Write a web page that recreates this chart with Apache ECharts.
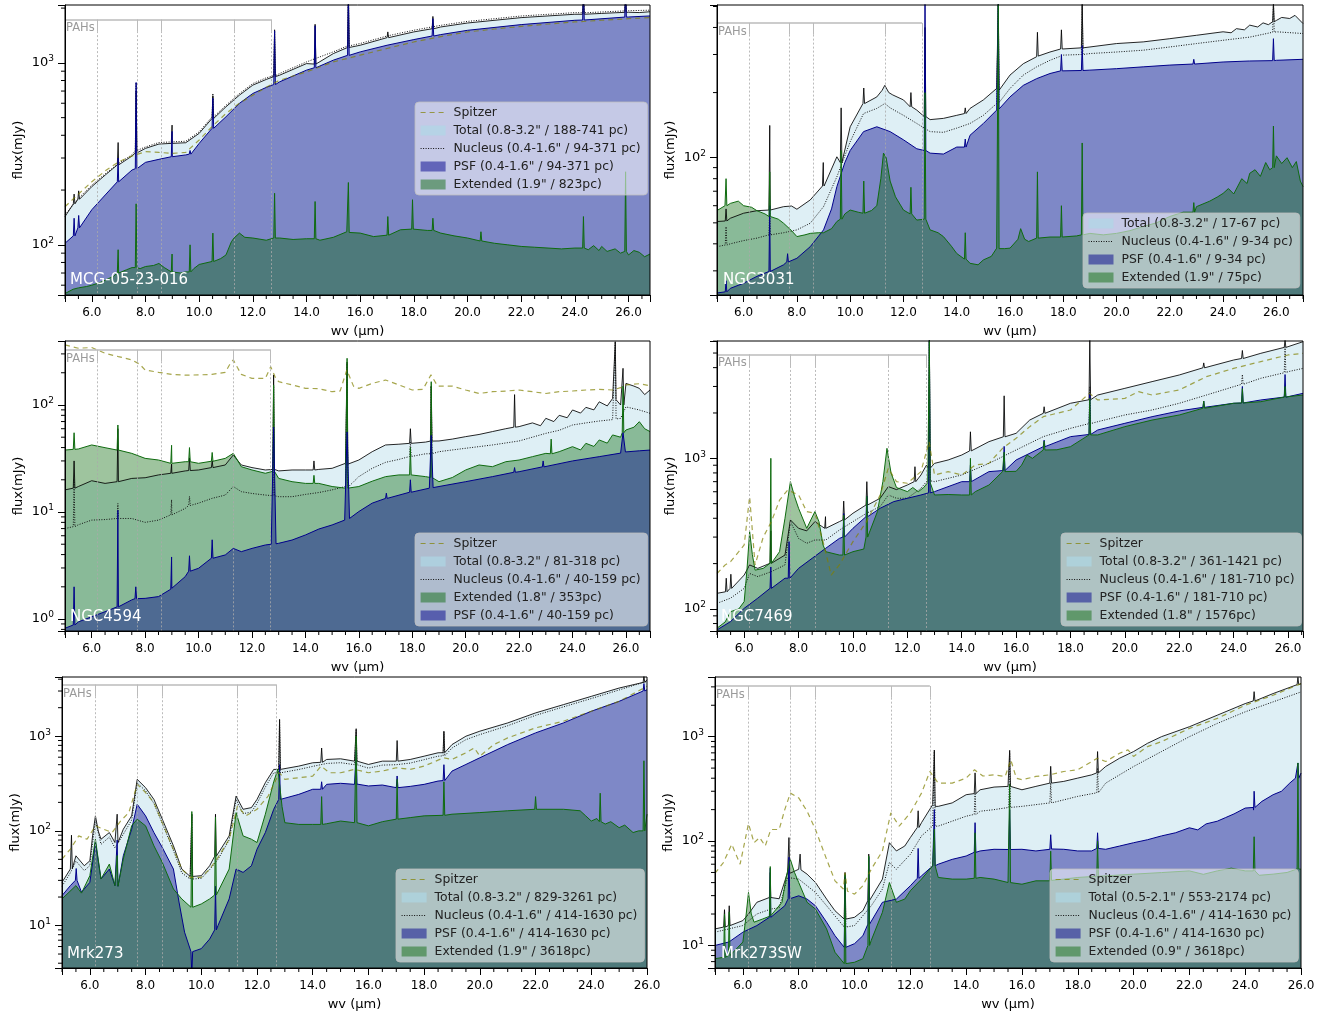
<!DOCTYPE html>
<html><head><meta charset="utf-8">
<script src="https://cdn.jsdelivr.net/npm/echarts/dist/echarts.min.js"></script>
<style>html,body{margin:0;padding:0;background:#fff}#c{width:1319px;height:1015px}</style>
</head><body><div id="c"></div>
<script>
// ---------------- DATA (wavelength µm, flux mJy) ----------------
const PAH_WV = [6.2, 7.7, 8.6, 11.3, 12.7];

// Panel 1: MCG-05-23-016
const P1_TOTAL = [[5.0,143],[5.5,177],[6.0,209],[6.5,242],[7.0,275],[7.5,308],[8.0,339],[8.5,358],[9.0,361],[9.5,364],[10.0,410],[10.5,495],[11.0,574],[11.5,665],[12.0,755],[12.5,811],[13.0,856],[14.0,991],[15.0,1125],[16.0,1250],[17.0,1376],[18.0,1480],[19.0,1575],[20.0,1656],[22.0,1773],[24.0,1850],[25.0,1870],[25.5,1885],[26.0,1898],[26.4,1890],[26.8,1910]];
const P1_TOTAL_L = [[5.34,168,190],[5.51,178,198],[6.98,275,365],[7.65,320,700],[8.99,361,455],[10.51,495,660],[12.81,840,1520],[14.32,985,1630],[15.56,1215,2500],[17.03,1376,1480],[18.71,1540,1800],[24.32,1850,2500],[25.89,1895,2500]];
const P1_NUC = [[5.0,146],[5.5,180],[6.0,213],[6.5,246],[7.0,280],[7.5,313],[8.0,345],[8.5,365],[9.0,368],[9.5,371],[10.0,418],[10.5,505],[11.0,585],[11.5,678],[12.0,770],[12.5,828],[13.0,875],[14.0,1012],[15.0,1150],[16.0,1278],[17.0,1405],[18.0,1512],[19.0,1608],[20.0,1690],[22.0,1810],[24.0,1888],[26.0,1935],[26.8,1948]];
const P1_NUC_L = [[7.65,330,780],[10.51,505,680],[12.81,850,1500],[15.56,1240,2500],[24.32,1885,2500],[25.89,1930,2500]];
const P1_PSF = [[5.0,102],[5.5,126],[6.0,156],[6.5,188],[7.0,222],[7.5,258],[8.0,284],[8.5,295],[9.0,305],[9.5,312],[10.0,361],[10.5,437],[11.0,506],[11.5,599],[12.0,679],[12.5,733],[13.0,787],[14.0,912],[15.0,1035],[16.0,1149],[17.0,1250],[18.0,1343],[19.0,1430],[20.0,1510],[22.0,1623],[24.0,1714],[26.0,1787],[26.8,1811]];
const P1_PSF_L = [[5.34,112,140],[5.51,124,145],[6.98,222,300],[7.65,262,780],[8.99,305,420],[9.66,315,330],[10.51,437,640],[12.81,760,1500],[14.32,940,1600],[15.56,1100,2500],[18.71,1405,1750],[24.32,1720,2500],[25.89,1785,2500]];
const P1_EXT = [[5.0,54],[5.3,57],[5.5,58],[5.8,59],[6.0,60],[6.3,62],[6.5,64],[6.8,67],[7.0,70],[7.3,73],[7.5,75],[7.8,74],[8.0,76],[8.3,77],[8.5,79],[8.7,75],[9.0,71],[9.3,70],[9.5,71],[9.8,74],[10.0,78],[10.5,81],[10.8,84],[11.0,88],[11.2,104],[11.3,109],[11.5,116],[11.7,110],[12.0,109],[12.5,106],[13.0,109],[13.5,107],[14.0,108],[14.5,106],[15.0,110],[15.5,118],[16.0,116],[16.5,111],[17.0,113],[17.5,121],[18.0,123],[18.5,120],[19.0,116],[19.5,112],[20.0,109],[20.5,105],[21.0,102],[21.5,100],[22.0,98],[22.5,97],[23.0,96],[23.5,95],[24.0,96],[24.5,94],[24.7,99],[24.9,93],[25.0,98],[25.2,92],[25.5,95],[25.7,90],[26.0,88],[26.2,93],[26.4,91],[26.6,86],[26.8,89]];
const P1_EXT_L = [[6.98,70,94],[7.65,75,168],[8.99,71,89],[9.66,71,100],[10.51,81,116],[12.81,109,192],[14.32,108,173],[15.56,117,220],[17.03,113,143],[17.95,122,177],[18.71,120,140],[20.5,105,118],[24.32,96,143],[25.89,92,252]];
const P1_SPITZER = [[5.0,162],[5.5,190],[6.0,222],[6.5,255],[7.0,286],[7.5,308],[8.0,325],[8.5,322],[9.0,318],[9.5,322],[10.0,377],[10.5,450],[11.0,527],[11.5,600],[12.0,665],[12.5,735],[13.0,803],[14.0,893],[15.0,1012],[16.0,1102],[17.0,1200],[18.0,1303],[19.0,1395],[20.0,1479],[21.0,1535],[22.0,1587],[23.0,1635],[24.0,1678],[25.0,1715],[26.0,1750],[26.8,1773]];
const P1_LEGEND = [['spitzer','Spitzer'],['total','Total (0.8-3.2" / 188-741 pc)'],['nuc','Nucleus (0.4-1.6" / 94-371 pc)'],['psf','PSF (0.4-1.6" / 94-371 pc)'],['ext','Extended (1.9" / 823pc)']];

// Panel 2: NGC3031
const P2_TOTAL = [[5.0,50.7],[5.5,52.5],[6.0,55.4],[6.5,56.9],[7.0,57.3],[7.5,59.4],[7.8,59.8],[8.0,57.8],[8.5,63.8],[9.0,76.3],[9.5,101],[10.0,139],[10.5,178],[11.0,191],[11.2,205],[11.3,216],[11.45,200],[11.6,195],[12.0,185],[12.5,166],[13.0,150],[13.5,152],[14.0,157],[14.5,169],[15.0,185],[15.5,209],[16.0,241],[16.5,272],[17.0,293],[17.5,308],[18.0,320],[19.0,325],[20.0,337],[21.0,343],[22.0,355],[23.0,368],[24.0,382],[24.3,378],[24.5,395],[24.8,390],[25.0,410],[25.3,402],[25.5,420],[25.7,412],[26.0,431],[26.2,445],[26.5,440],[26.7,455],[27.0,417]];
const P2_TOTAL_L = [[5.34,51,58],[6.98,57.3,141],[8.99,74,95],[9.66,95,170],[10.51,178,210],[12.28,172,200],[12.81,155,400],[14.32,160,170],[15.56,205,520],[17.03,295,380],[17.93,318,390],[18.71,322,520],[25.89,425,520]];
const P2_NUC = [[5.0,38.8],[5.5,40],[6.0,41.4],[6.5,42.5],[7.0,44],[7.5,45],[8.0,46.4],[8.5,49.8],[9.0,59.4],[9.5,81.6],[10.0,118.5],[10.5,160],[11.0,169],[11.3,178],[11.5,170],[12.0,157],[12.5,144],[13.0,132],[13.5,131],[14.0,137],[14.5,144],[15.0,157],[15.5,178],[16.0,209],[16.5,241],[17.0,263],[17.5,282],[18.0,298],[19.0,303],[20.0,308],[21.0,314],[22.0,325],[23.0,337],[24.0,349],[25.0,361],[26.0,382],[27.0,375]];
const P2_NUC_L = [[5.34,39.5,48],[6.98,44,60],[15.56,180,520],[18.71,300,520],[25.89,380,520]];
const P2_PSF = [[5.0,23.7],[5.5,24.9],[6.0,26.3],[6.5,28.3],[7.0,29.8],[7.5,32],[8.0,34.3],[8.5,38.8],[9.0,46.4],[9.3,58],[9.5,73.5],[9.8,95],[10.0,108],[10.5,132],[11.0,139],[11.5,132],[12.0,121],[12.5,110],[13.0,105],[13.5,104],[14.0,112],[14.5,127],[15.0,144],[15.5,166],[16.0,191],[16.5,216],[17.0,232],[17.5,245],[18.0,252],[19.0,254],[20.0,258],[21.0,263],[22.0,268],[23.0,272],[24.0,277],[25.0,280],[26.0,282],[27.0,285]];
const P2_PSF_L = [[5.34,24,27],[6.98,29.8,60],[7.65,33,36],[12.81,108,520],[14.32,112,122],[15.56,168,520],[17.93,252,300],[18.71,253,330],[22.9,271,285],[25.89,281,355]];
const P2_EXT = [[5.0,57],[5.3,60],[5.5,61.5],[5.8,63],[6.0,60],[6.3,59],[6.5,56.9],[6.8,55],[7.0,53.5],[7.3,52],[7.5,49.8],[7.8,46],[8.0,43.2],[8.3,44],[8.5,44.7],[8.8,45],[9.0,45],[9.3,47],[9.5,50.7],[9.8,55],[10.0,57.3],[10.3,56],[10.5,55.4],[10.8,57],[11.0,60],[11.15,80],[11.25,105],[11.35,100],[11.5,78],[11.7,66],[12.0,57.3],[12.5,51.5],[13.0,46.4],[13.3,45],[13.5,43.2],[13.8,39],[14.0,36.1],[14.3,34],[14.5,32.5],[14.8,32],[15.0,33.7],[15.3,35],[15.5,38.2],[15.8,38],[16.0,38.2],[16.3,42],[16.4,47],[16.55,42],[16.7,41],[17.0,42.5],[17.5,43],[18.0,43.2],[18.5,43.5],[19.0,44.7],[19.5,44],[20.0,44.7],[20.5,46],[21.0,48.1],[21.5,50],[22.0,53.5],[22.5,56],[23.0,59.4],[23.5,63],[23.8,66],[24.0,68.4],[24.2,72],[24.4,68],[24.7,80],[24.9,76],[25.0,84.7],[25.2,88],[25.4,82],[25.6,95],[25.75,88],[26.0,102],[26.2,94],[26.4,100],[26.6,90],[26.75,96],[26.9,78],[27.0,73.5]];
const P2_EXT_L = [[5.34,60,80],[6.98,53.5,86],[9.66,52,108],[10.51,55.4,78],[12.28,55,73],[12.81,52,200],[14.32,34,45],[15.56,38,520],[17.03,42.5,86],[17.93,43,60],[18.71,44,117],[22.9,56,62],[25.89,90,140]];
const P2_LEGEND = [['total','Total (0.8-3.2" / 17-67 pc)'],['nuc','Nucleus (0.4-1.6" / 9-34 pc)'],['psf','PSF (0.4-1.6" / 9-34 pc)'],['ext','Extended (1.9" / 75pc)']];

// Panel 3: NGC4594
const P3_SPITZER = [[5.0,364],[5.5,339],[6.0,344],[6.5,304],[7.0,283],[7.5,264],[7.8,240],[8.0,212],[8.5,202],[9.0,193],[9.5,190],[10.0,191],[10.5,193],[11.0,202],[11.15,235],[11.3,264],[11.45,225],[11.6,193],[12.0,177],[12.5,177],[12.7,228],[12.9,175],[13.0,165],[13.5,154],[14.0,143],[14.5,142],[15.0,133],[15.3,135],[15.55,212],[15.8,150],[16.0,143],[16.5,159],[17.0,171],[17.5,154],[18.0,138],[18.4,140],[18.7,191],[18.95,150],[19.5,150],[20.0,138],[20.5,128],[21.0,133],[21.5,135],[22.0,138],[22.5,133],[23.0,128],[23.5,133],[24.0,135],[24.5,138],[25.0,140],[25.5,138],[25.8,145],[26.0,154],[26.5,158],[26.9,151]];
const P3_TOTAL = [[5.0,16.1],[5.5,17.3],[6.0,19.6],[6.5,18.5],[7.0,19.2],[7.5,20.6],[8.0,20.9],[8.5,22.2],[9.0,23],[9.5,24.2],[10.0,24.7],[10.5,26],[11.0,27.5],[11.3,34.1],[11.6,27.5],[12.0,26],[12.5,24.7],[13.0,24.2],[13.5,24.7],[14.0,24.7],[14.5,25],[15.0,25.6],[15.5,28.5],[16.0,30.6],[16.5,36.6],[17.0,42.3],[17.5,43],[18.0,43.8],[18.5,45],[19.0,46.1],[19.5,48],[20.0,50.6],[20.5,53],[21.0,56.4],[21.5,60],[22.0,62.8],[22.5,68],[22.8,64],[23.0,75],[23.3,70],[23.5,80],[23.8,76],[24.0,89.8],[24.3,84],[24.5,95],[24.8,90],[25.0,107],[25.3,98],[25.5,115],[25.8,100],[26.0,159],[26.3,150],[26.5,143],[26.7,125],[26.9,138]];
const P3_TOTAL_L = [[5.34,16.7,30],[6.98,19.2,60],[8.99,23,28],[9.66,24.4,32],[10.51,26,30],[12.81,25,191],[14.32,24.7,30],[15.56,28,250],[17.93,43.8,60],[18.71,46,150],[21.83,62,125],[25.6,112,390],[25.89,100,220]];
const P3_NUC = [[5.0,7.0],[5.5,7.6],[6.0,8.4],[6.5,8.5],[7.0,8.7],[7.5,8.7],[8.0,8.0],[8.5,8.4],[9.0,9.4],[9.5,10.8],[10.0,12.1],[10.5,13.4],[11.0,14.4],[11.3,17.3],[11.6,15.5],[12.0,14.9],[12.5,14.4],[13.0,13.9],[13.5,13.9],[14.0,14.6],[14.5,15.2],[15.0,16.1],[15.5,17.3],[16.0,21.4],[16.5,25.6],[17.0,29.1],[17.5,31],[18.0,33.6],[18.5,35],[19.0,36.6],[19.5,38],[20.0,39.4],[21.0,42.3],[22.0,46.1],[23.0,54.3],[23.5,58],[24.0,65],[24.5,68],[25.0,70.8],[25.5,73],[25.8,75],[26.0,96],[26.5,89.8],[26.9,83.6]];
const P3_NUC_L = [[5.34,7.3,20],[6.98,8.7,12],[8.99,9.4,13],[9.66,11.5,14],[12.81,14.2,150],[15.56,17,250],[17.93,33,45],[18.71,35,150],[25.6,74,390]];
const P3_EXT = [[5.0,37.9],[5.5,38.8],[6.0,42.3],[6.5,39.9],[7.0,37.9],[7.5,35.3],[8.0,31.7],[8.5,30.6],[9.0,28.5],[9.5,29.5],[10.0,28.5],[10.5,29.8],[11.0,31.7],[11.3,35.3],[11.6,26.5],[12.0,24.7],[12.5,23],[13.0,20.6],[13.5,19.2],[14.0,18.5],[14.5,18.5],[15.0,17.3],[15.5,16.7],[16.0,17.3],[16.5,19.4],[17.0,21.4],[17.5,22.2],[18.0,22.2],[18.5,21.4],[19.0,19.2],[19.5,21],[20.0,24.7],[20.5,27.5],[21.0,26.5],[21.5,29.5],[22.0,30.6],[22.5,32.9],[23.0,35.3],[23.5,36.6],[24.0,40.8],[24.3,38],[24.5,43.8],[24.8,41],[25.0,47.1],[25.3,44],[25.5,52.5],[25.8,50],[26.0,58.4],[26.3,62],[26.5,69.8],[26.7,60],[26.9,56.4]];
const P3_EXT_L = [[5.34,38.5,55],[6.98,37.9,65],[8.99,28.5,42],[9.66,29.5,40],[10.51,29.8,36],[12.81,24,154],[14.32,18.5,22],[15.56,16.7,273],[17.93,22.2,40],[18.71,21,165],[23.2,35,48],[25.89,55,150]];
const P3_PSF = [[5.0,0.82],[5.5,0.94],[6.0,1.05],[6.5,1.17],[7.0,1.30],[7.5,1.51],[8.0,1.56],[8.5,1.62],[9.0,1.94],[9.5,2.49],[10.0,2.98],[10.5,3.69],[11.0,3.97],[11.3,4.57],[11.6,4.26],[12.0,4.57],[12.5,4.92],[12.72,5.0],[12.81,62],[12.9,5.05],[13.0,5.1],[13.5,5.47],[14.0,6.1],[14.5,6.93],[15.0,7.57],[15.47,8.4],[15.56,56],[15.65,8.7],[16.0,10.1],[16.5,12.1],[17.0,13.4],[18.0,15.5],[18.64,16.7],[18.71,52],[18.78,16.9],[19.0,17.3],[20.0,19.2],[21.0,21.4],[22.0,23.8],[23.0,26.5],[24.0,30],[25.0,32.9],[25.8,35.5],[25.89,55],[25.98,36.4],[26.5,37.3],[26.9,37.9]];
const P3_PSF_L = [[5.34,0.88,2.0],[6.98,1.3,10.4],[7.65,1.55,2.0],[8.99,1.9,3.8],[9.66,2.8,3.9],[10.51,3.7,5.5],[17.03,13.4,15],[17.93,15.3,20],[21.83,23.5,26],[22.9,26.4,30]];
const P3_LEGEND = [['spitzer','Spitzer'],['total','Total (0.8-3.2" / 81-318 pc)'],['nuc','Nucleus (0.4-1.6" / 40-159 pc)'],['ext','Extended (1.8" / 353pc)'],['psf','PSF (0.4-1.6" / 40-159 pc)']];

// Panel 4: NGC7469
const P4_SPITZER = [[5.0,172],[5.3,196],[5.5,206],[5.8,240],[6.0,266],[6.2,557],[6.4,196],[6.7,300],[7.0,380],[7.3,528],[7.6,616],[8.0,571],[8.3,443],[8.6,432],[8.9,280],[9.2,168],[9.5,196],[10.0,280],[10.5,380],[11.0,571],[11.3,859],[11.6,700],[12.0,683],[12.5,816],[12.8,1290],[13.0,775],[13.5,816],[14.0,775],[14.5,903],[15.0,926],[15.5,1165],[16.0,1358],[16.5,1623],[17.0,1890],[17.5,1990],[18.0,2093],[18.7,2700],[19.0,2440],[20.0,2500],[20.5,2770],[21.0,2632],[22.0,2845],[23.0,3485],[24.0,3955],[25.0,4386],[26.0,4855],[26.55,4980]];
const P4_TOTAL = [[5.0,127],[5.5,137],[6.0,168],[6.2,196],[6.5,186],[7.0,201],[7.5,228],[7.7,390],[8.0,343],[8.3,330],[8.6,380],[9.0,343],[9.5,380],[10.0,432],[10.5,490],[11.0,543],[11.3,649],[11.6,620],[12.0,665],[12.5,775],[12.7,900],[13.0,926],[13.5,975],[14.0,1052],[15.0,1290],[16.0,1466],[16.5,1795],[17.0,1990],[18.0,2320],[19.0,2632],[20.0,2915],[21.0,3230],[22.0,3575],[23.0,4055],[24.0,4495],[25.0,4980],[26.0,5510],[26.55,5945]];
const P4_TOTAL_L = [[5.34,130,160],[5.51,137,170],[6.98,201,330],[8.99,343,410],[9.66,390,520],[10.51,490,700],[12.28,700,880],[12.81,860,6100],[14.32,1120,1500],[15.56,1390,2600],[17.03,1990,2200],[18.71,2450,6100],[22.9,3990,4300],[24.32,4600,5200],[25.89,5450,6100]];
const P4_NUC = [[5.0,109],[5.5,118],[6.0,137],[6.2,172],[6.5,164],[7.0,177],[7.5,196],[7.7,380],[8.0,294],[8.3,273],[8.6,287],[9.0,287],[9.5,334],[10.0,380],[10.5,432],[11.0,478],[11.3,571],[11.6,543],[12.0,543],[12.5,632],[12.7,700],[13.0,700],[14.0,775],[15.0,926],[16.0,1136],[17.0,1393],[18.0,1582],[19.0,1750],[20.0,1940],[21.0,2093],[22.0,2320],[23.0,2632],[24.0,2990],[25.0,3400],[26.0,3760],[26.55,3955]];
const P4_NUC_L = [[12.81,710,6100],[18.71,1700,3000],[24.32,3100,3600],[25.89,3700,5500]];
const P4_PSF = [[5.0,72.6],[5.5,82.5],[6.0,101],[6.5,118],[7.0,137],[7.5,160],[8.0,186],[8.5,217],[9.0,253],[9.5,294],[10.0,343],[10.5,410],[11.0,466],[11.5,516],[12.0,543],[12.5,571],[13.0,601],[14.0,700],[15.0,816],[16.0,975],[17.0,1195],[18.0,1393],[19.0,1542],[20.0,1708],[21.0,1890],[22.0,2063],[23.0,2204],[24.0,2320],[25.0,2440],[26.0,2565],[26.55,2700]];
const P4_PSF_L = [[6.98,137,190],[7.65,160,280],[9.66,300,430],[10.51,410,560],[12.81,590,6100],[14.32,700,900],[15.56,830,1200],[17.03,1195,1320],[18.71,1440,2700],[22.9,2180,2400],[24.32,2330,3000],[25.89,2550,3600]];
const P4_EXT = [[5.0,74.5],[5.3,82],[5.5,96],[5.8,100],[6.0,112],[6.1,180],[6.2,326],[6.3,230],[6.4,181],[6.7,186],[7.0,201],[7.3,240],[7.5,400],[7.7,700],[7.85,560],[8.0,466],[8.3,343],[8.6,443],[8.75,380],[8.9,266],[9.0,240],[9.5,228],[10.0,240],[10.4,250],[10.6,320],[10.9,443],[11.1,700],[11.25,1165],[11.4,800],[11.6,640],[12.0,601],[12.2,640],[12.4,600],[12.6,640],[12.75,690],[13.0,571],[13.5,575],[14.0,571],[14.5,601],[15.0,665],[15.5,816],[16.0,820],[16.2,900],[16.4,1052],[16.6,1000],[17.0,1136],[17.5,1140],[18.0,1195],[19.0,1430],[20.0,1623],[21.0,1795],[22.0,1940],[23.0,2148],[24.0,2320],[25.0,2377],[26.0,2565],[26.55,2632]];
const P4_EXT_L = [[6.98,201,1000],[9.66,228,420],[10.51,300,560],[12.81,690,6100],[14.32,571,1000],[15.56,816,1100],[17.03,1136,1300],[18.71,1430,2500],[22.9,2150,2400],[24.32,2330,2900],[25.89,2550,3000]];
const P4_LEGEND = [['spitzer','Spitzer'],['total','Total (0.8-3.2" / 361-1421 pc)'],['nuc','Nucleus (0.4-1.6" / 181-710 pc)'],['psf','PSF (0.4-1.6" / 181-710 pc)'],['ext','Extended (1.8" / 1576pc)']];

// Panel 5: Mrk273
const P5_SPITZER = [[5.0,50.3],[5.3,64.1],[5.6,88.5],[5.9,81.6],[6.2,113],[6.5,104],[6.8,96],[7.1,127],[7.4,156],[7.7,310],[8.0,254],[8.3,199],[8.6,122],[9.0,64],[9.3,39.5],[9.6,32.3],[10.0,32.3],[10.3,39.5],[10.6,52.4],[11.0,81.6],[11.3,183],[11.6,144],[12.0,169],[12.4,233],[12.8,411],[13.0,350],[13.5,364],[14.0,379],[14.3,483],[14.6,411],[15.0,411],[15.5,446],[16.0,411],[16.5,428],[17.0,464],[17.5,446],[18.0,483],[18.7,592],[19.0,568],[19.5,668],[19.8,753],[20.0,615],[20.5,816],[21.0,960],[22.0,1224],[23.0,1439],[24.0,1834],[25.0,2335],[26.0,3360]];
const P5_TOTAL = [[5.0,28.6],[5.3,39.5],[5.5,54.5],[5.8,42.8],[6.0,48.3],[6.1,90],[6.2,144],[6.3,100],[6.4,81.6],[6.7,96],[6.9,75.3],[7.2,104],[7.5,144],[7.7,350],[8.0,286],[8.3,215],[8.6,133],[9.0,69.5],[9.3,39.5],[9.6,33],[10.0,33.6],[10.3,42.8],[10.6,54.5],[11.0,88.5],[11.25,233],[11.5,169],[11.8,176],[12.0,215],[12.3,323],[12.6,446],[12.9,446],[13.5,483],[14.0,524],[14.5,568],[15.0,577],[15.5,545],[16.0,503],[16.5,545],[17.0,545],[17.5,568],[18.0,615],[18.5,668],[19.0,816],[19.5,1000],[20.0,1130],[21.0,1381],[22.0,1762],[23.0,2155],[24.0,2636],[25.0,3226],[26.0,3945]];
const P5_TOTAL_L = [[5.34,40,90],[6.98,75,150],[9.66,33,150],[10.51,54,150],[12.81,446,1500],[14.32,530,750],[15.56,545,1200],[17.03,545,900],[18.71,670,1130],[25.89,3700,4300]];
const P5_NUC = [[5.0,26],[5.3,36],[5.5,48],[5.8,38],[6.0,43],[6.2,130],[6.4,72],[6.7,86],[6.9,66],[7.2,92],[7.5,130],[7.7,320],[8.0,265],[8.3,195],[8.6,120],[9.0,62],[9.3,36],[9.6,31],[10.0,31.5],[10.3,39],[10.6,50],[11.0,80],[11.25,215],[11.5,152],[11.8,158],[12.0,195],[12.3,290],[12.6,410],[12.9,410],[13.5,445],[14.0,480],[14.5,515],[15.0,525],[15.5,500],[16.0,460],[16.5,495],[17.0,500],[17.5,520],[18.0,565],[18.5,615],[19.0,750],[19.5,920],[20.0,1040],[21.0,1290],[22.0,1660],[23.0,2040],[24.0,2500],[25.0,3080],[26.0,3800]];
const P5_NUC_L = [[9.66,31,150],[12.81,410,1500],[15.56,500,1150],[18.71,620,1100]];
const P5_PSF = [[5.0,20.7],[5.3,26.4],[5.5,31],[5.7,22.5],[6.0,28.6],[6.2,75.3],[6.4,31],[6.7,39.5],[6.9,26.4],[7.2,54.5],[7.5,104],[7.7,191],[8.0,144],[8.3,96],[8.6,66.8],[9.0,39.5],[9.2,17.7],[9.4,8.5],[9.7,5.2],[10.0,5.7],[10.3,7.2],[10.6,10],[11.0,19.1],[11.25,39.5],[11.5,36.4],[11.8,42.8],[12.0,64],[12.3,96],[12.6,169],[12.9,215],[13.5,243],[14.0,275],[14.5,310],[15.0,318],[15.5,310],[16.0,298],[16.5,305],[17.0,286],[17.5,295],[18.0,310],[18.5,336],[19.0,428],[19.5,503],[20.0,592],[21.0,816],[22.0,1084],[23.0,1381],[24.0,1834],[25.0,2335],[26.0,3100]];
const P5_PSF_L = [[5.51,30,40],[6.98,26,80],[9.66,5.3,3.0],[10.51,9,26],[12.81,215,500],[14.32,275,330],[15.56,312,700],[17.03,286,380],[18.71,340,500],[25.89,3000,3600]];
const P5_EXT = [[5.0,19.1],[5.5,26.4],[5.7,22],[6.0,33.6],[6.2,81.6],[6.4,31],[6.7,44.6],[6.9,26.4],[7.2,50.3],[7.5,113],[7.7,133],[8.0,113],[8.3,69.5],[8.6,46.4],[9.0,24.3],[9.3,19.1],[9.7,15.6],[10.0,16.9],[10.3,19.1],[10.6,20.7],[11.0,39.5],[11.25,156],[11.5,88.5],[11.8,81.6],[12.0,75.3],[12.3,150],[12.6,330],[12.75,450],[12.9,180],[13.0,122],[13.5,117],[14.0,117],[14.5,119],[15.0,127],[15.5,122],[16.0,113],[16.5,125],[17.0,133],[17.5,138],[18.0,144],[19.0,150],[20.0,156],[21.0,163],[22.0,169],[23.0,169],[23.6,163],[23.8,144],[24.0,127],[24.2,135],[24.5,118],[24.7,125],[25.0,108],[25.2,115],[25.5,96],[25.7,100],[26.0,150]];
const P5_EXT_L = [[6.98,26,55],[9.66,15.6,160],[10.51,21,140],[14.32,117,230],[15.56,122,1000],[17.03,133,350],[18.71,146,330],[22.0,169,230],[24.32,125,250],[25.89,100,550]];
const P5_LEGEND = [['spitzer','Spitzer'],['total','Total (0.8-3.2" / 829-3261 pc)'],['nuc','Nucleus (0.4-1.6" / 414-1630 pc)'],['psf','PSF (0.4-1.6" / 414-1630 pc)'],['ext','Extended (1.9" / 3618pc)']];

// Panel 6: Mrk273SW
const P6_SPITZER = [[5.0,49.2],[5.3,62.2],[5.6,93],[5.9,60],[6.2,147],[6.4,96.4],[6.6,108],[6.8,89.6],[7.0,129],[7.3,129],[7.5,200],[7.7,288],[8.0,259],[8.3,193],[8.6,129],[9.0,66.8],[9.3,41.6],[9.6,34.7],[9.66,49.9],[9.75,33],[10.0,31],[10.3,37.3],[10.6,53.7],[11.0,80.4],[11.3,186],[11.6,139],[12.0,186],[12.4,288],[12.7,464],[13.0,359],[13.5,359],[14.0,401],[14.3,482],[14.6,420],[15.0,431],[15.4,416],[15.6,600],[15.8,400],[16.0,387],[16.5,416],[17.0,431],[17.5,464],[18.0,482],[18.7,622],[19.0,578],[19.5,693],[19.8,747],[20.0,646],[20.5,803],[21.0,896],[22.0,1200],[23.0,1496],[24.0,2003],[25.0,2494],[26.0,3223]];
const P6_TOTAL = [[5.0,14.4],[5.5,15.5],[6.0,17.3],[6.2,20],[6.5,25.9],[7.0,28.8],[7.3,28],[7.6,49.9],[8.0,53.7],[8.3,48.2],[8.6,40.1],[9.0,27.8],[9.3,21.5],[9.7,17.9],[10.0,18.6],[10.3,21.5],[10.6,27.8],[11.0,43.2],[11.25,96.4],[11.5,80.4],[11.8,89.6],[12.0,108],[12.4,150],[12.8,223],[13.0,215],[13.5,232],[14.0,278],[14.5,310],[15.0,329],[15.5,334],[16.0,310],[16.5,334],[17.0,359],[17.5,373],[18.0,401],[18.5,431],[19.0,518],[19.5,622],[20.0,720],[20.5,864],[21.0,1000],[22.0,1245],[23.0,1607],[24.0,2075],[25.0,2588],[26.0,3223]];
const P6_TOTAL_L = [[5.34,15,22],[5.51,15.5,24],[6.98,28.8,50],[7.65,49,108],[8.05,53,75],[9.66,17.9,50],[10.51,27,75],[12.28,135,195],[12.86,215,740],[14.32,285,450],[15.56,334,740],[17.03,359,520],[18.71,450,720],[24.32,2200,2700],[25.89,3150,3700]];
const P6_NUC = [[5.0,13.4],[6.0,15.5],[6.5,20],[7.0,22.3],[7.3,23],[7.6,44.8],[8.0,43.2],[8.6,32.2],[9.0,24],[9.7,15],[10.0,15.5],[10.6,24],[11.0,34.7],[11.25,62.2],[11.5,53.7],[12.0,74.6],[12.4,112],[12.8,139],[13.0,139],[14.0,173],[14.5,193],[15.0,200],[16.0,215],[17.0,232],[18.0,268],[19.0,359],[20.0,518],[21.0,720],[22.0,1000],[23.0,1340],[24.0,1730],[25.0,2155],[26.0,2683]];
const P6_NUC_L = [[9.66,15,45],[12.86,139,740],[14.32,180,290],[15.56,210,700],[17.03,232,360],[18.71,290,500]];
const P6_PSF = [[5.0,10],[5.5,10.8],[6.0,13.4],[6.5,15.5],[7.0,18.6],[7.5,24],[7.7,27.8],[8.0,29.9],[8.3,27.8],[8.6,24],[9.0,16.7],[9.3,12.4],[9.7,9.6],[10.0,10.4],[10.3,12.4],[10.6,16.7],[11.0,25.9],[11.5,27.8],[12.0,37.3],[12.4,46.4],[12.8,57.8],[13.0,60],[13.5,66.8],[14.0,71.9],[14.5,80.4],[15.0,83.4],[16.0,83.4],[16.5,80.4],[17.0,83.4],[17.5,83.4],[18.0,80.4],[18.5,80.4],[19.0,83.4],[19.5,89.6],[20.0,96.4],[20.5,103],[21.0,112],[21.5,120],[22.0,134],[22.3,128],[22.6,146],[23.0,155],[23.3,168],[23.6,182],[24.0,207],[24.3,198],[24.6,240],[25.0,278],[25.3,300],[25.6,360],[25.8,400],[26.0,448]];
const P6_PSF_L = [[6.98,18.6,55],[7.65,28,70],[9.66,9.6,45],[10.51,16,70],[12.28,44,85],[12.86,58,200],[14.32,78,150],[15.56,83,200],[17.03,84,115],[18.71,85,120],[24.32,210,300],[25.89,400,560]];
const P6_EXT = [[5.0,7.46],[5.5,8.0],[6.0,10.8],[6.1,18],[6.2,32.2],[6.3,20],[6.4,16.7],[6.7,17.9],[7.0,19.3],[7.4,25.9],[7.55,45],[7.7,66.8],[7.85,50],[8.0,40.1],[8.3,25.9],[8.6,22.3],[9.0,14.4],[9.3,8.6],[9.7,6.7],[10.0,6.9],[10.3,7.46],[10.6,11.2],[11.0,20.8],[11.25,40.1],[11.5,25.9],[11.8,27.8],[12.0,33.4],[12.4,43.2],[12.8,57.8],[13.0,44.8],[13.5,43.2],[14.0,43.2],[14.5,44.8],[15.0,43.2],[15.5,40.1],[16.0,38.6],[16.5,41.6],[17.0,41.6],[17.5,43.2],[18.0,44.8],[19.0,46.4],[20.0,48.2],[21.0,49.9],[22.0,51.8],[22.5,48],[23.0,51.8],[23.5,55],[24.0,51.8],[24.5,47],[25.0,48.2],[25.5,50],[26.0,53.7]];
const P6_EXT_L = [[5.34,7.7,20],[5.51,8,21],[6.98,19,57],[9.66,6.7,48],[10.51,10,72],[12.86,57.8,130],[14.32,44,120],[15.56,40,350],[17.03,42,80],[18.71,46,100],[24.32,51.8,110],[25.89,54,560]];
const P6_LEGEND = [['spitzer','Spitzer'],['total','Total (0.5-2.1" / 553-2174 pc)'],['nuc','Nucleus (0.4-1.6" / 414-1630 pc)'],['psf','PSF (0.4-1.6" / 414-1630 pc)'],['ext','Extended (0.9" / 3618pc)']];

// ---------------- LAYOUT / STYLE ----------------
const FONT = 'DejaVu Sans';
const STYLE = {
  total:   {area:true,  fill:'rgba(173,216,230,0.4)', swatch:'rgba(173,216,230,0.65)', line:'rgba(0,0,0,0.85)', width:1, type:'solid'},
  nuc:     {area:false, line:'#111', width:1, type:[1,1.5]},
  psf:     {area:true,  fill:'rgba(0,0,139,0.43)', swatch:'rgba(0,0,139,0.5)', line:'#00008b', width:1, type:'solid'},
  ext:     {area:true,  fill:'rgba(0,100,0,0.38)', swatch:'rgba(0,100,0,0.45)', line:'#0f6b0f', width:1, type:'solid'},
  spitzer: {area:false, line:'rgba(128,128,0,0.7)', width:1.2, type:[5,4]}
};
const PANELS = [
  {grid:{left:65,top:5,width:585,height:290}, x:[5.0,26.8], y:[53,2080], d:{total:[P1_TOTAL,P1_TOTAL_L],nuc:[P1_NUC,P1_NUC_L],psf:[P1_PSF,P1_PSF_L],ext:[P1_EXT,P1_EXT_L],spitzer:[P1_SPITZER,[]]}, order:['total','nuc','psf','ext','spitzer'], legend:P1_LEGEND, legendPos:[415,102], label:'MCG-05-23-016', labelPos:[70,273], bracket:0.05},
  {grid:{left:717,top:5,width:586,height:290}, x:[5.0,27.0], y:[23.2,508], d:{total:[P2_TOTAL,P2_TOTAL_L],nuc:[P2_NUC,P2_NUC_L],psf:[P2_PSF,P2_PSF_L],ext:[P2_EXT,P2_EXT_L]}, order:['total','nuc','psf','ext'], legend:P2_LEGEND, legendPos:[1083,213], label:'NGC3031', labelPos:[723,273], bracket:0.062},
  {grid:{left:65,top:341,width:585,height:290}, x:[5.0,26.9], y:[0.773,396], d:{total:[P3_TOTAL,P3_TOTAL_L],nuc:[P3_NUC,P3_NUC_L],psf:[P3_PSF,P3_PSF_L],ext:[P3_EXT,P3_EXT_L],spitzer:[P3_SPITZER,[]]}, order:['total','nuc','ext','psf','spitzer'], legend:P3_LEGEND, legendPos:[415,533], label:'NGC4594', labelPos:[70,610], bracket:0.03},
  {grid:{left:717,top:341,width:586,height:290}, x:[5.0,26.55], y:[71.4,6010], d:{total:[P4_TOTAL,P4_TOTAL_L],nuc:[P4_NUC,P4_NUC_L],psf:[P4_PSF,P4_PSF_L],ext:[P4_EXT,P4_EXT_L],spitzer:[P4_SPITZER,[]]}, order:['total','nuc','psf','ext','spitzer'], legend:P4_LEGEND, legendPos:[1061,533], label:'NGC7469', labelPos:[721,610], bracket:0.046},
  {grid:{left:62,top:677,width:585,height:291}, x:[5.0,26.0], y:[3.56,4220], d:{total:[P5_TOTAL,P5_TOTAL_L],nuc:[P5_NUC,P5_NUC_L],psf:[P5_PSF,P5_PSF_L],ext:[P5_EXT,P5_EXT_L],spitzer:[P5_SPITZER,[]]}, order:['total','nuc','psf','ext','spitzer'], legend:P5_LEGEND, legendPos:[396,869], label:'Mrk273', labelPos:[67,947], bracket:0.026},
  {grid:{left:715,top:677,width:586,height:291}, x:[5.0,26.0], y:[6.08,3730], d:{total:[P6_TOTAL,P6_TOTAL_L],nuc:[P6_NUC,P6_NUC_L],psf:[P6_PSF,P6_PSF_L],ext:[P6_EXT,P6_EXT_L],spitzer:[P6_SPITZER,[]]}, order:['total','nuc','psf','ext','spitzer'], legend:P6_LEGEND, legendPos:[1050,869], label:'Mrk273SW', labelPos:[721,947], bracket:0.031}
];

// merge continuum points with narrow emission-line spikes [wv, base, peak]
function build(base, lines) {
  const pts = base.map(p => [p[0], p[1]]);
  (lines || []).forEach(l => { pts.push([l[0] - 0.03, l[1]], [l[0], l[2]], [l[0] + 0.03, l[1]]); });
  pts.sort((a, b) => a[0] - b[0]);
  return pts;
}
function yLabel(v) {
  const l = Math.log10(v), r = Math.round(l);
  if (Math.abs(l - r) > 1e-6) return '';
  return '{b|10}{s|' + r + '}';
}
function xLabel(v) {
  if (Math.abs(v / 2 - Math.round(v / 2)) > 1e-6) return '';
  return v.toFixed(1);
}
function minorValues(lo, hi) {
  const out = [];
  for (let d = Math.floor(Math.log10(lo)); d <= Math.ceil(Math.log10(hi)); d++) {
    for (let m = 2; m <= 9; m++) { const v = m * Math.pow(10, d); if (v > lo && v < hi) out.push(v); }
  }
  return out;
}
function xMinorValues(lo, hi) {
  const out = [];
  for (let v = Math.ceil(lo * 2) / 2; v <= hi + 1e-9; v += 0.5) {
    if (Math.abs(v / 2 - Math.round(v / 2)) > 1e-6) out.push(v);
  }
  return out;
}

const grids = [], xAxes = [], yAxes = [], series = [], legends = [], titles = [];
PANELS.forEach((p, i) => {
  grids.push(Object.assign({show:true, borderColor:'#000', borderWidth:1, backgroundColor:'transparent', z:10}, p.grid));
  xAxes.push({type:'value', gridIndex:i, min:p.x[0], max:p.x[1], splitNumber:11, z:10,
    axisLine:{show:true, onZero:false, lineStyle:{color:'#000', width:1}},
    axisTick:{show:true, length:7, lineStyle:{color:'#000', width:1}},
    minorTick:{show:false},
    splitLine:{show:false},
    axisLabel:{formatter:xLabel, fontSize:12, color:'#000', margin:12, fontFamily:FONT, interval:0},
    name:'wv (µm)', nameLocation:'middle', nameGap:30, nameTextStyle:{fontSize:13, color:'#000', fontFamily:FONT}});
  yAxes.push({type:'log', logBase:10, gridIndex:i, min:p.y[0], max:p.y[1], z:10,
    axisLine:{show:true, lineStyle:{color:'#000', width:1}},
    axisTick:{show:true, length:7, lineStyle:{color:'#000', width:1}},
    splitLine:{show:false},
    axisLabel:{formatter:yLabel, color:'#000', margin:11, fontFamily:FONT,
      rich:{b:{fontSize:13, lineHeight:17, verticalAlign:'middle', fontFamily:FONT, color:'#000'},
            s:{fontSize:9, lineHeight:9, verticalAlign:'top', fontFamily:FONT, color:'#000'}}},
    name:'flux(mJy)', nameLocation:'middle', nameGap:40, nameTextStyle:{fontSize:13, color:'#000', fontFamily:FONT}});
  const nameOf = {}; p.legend.forEach(e => { nameOf[e[0]] = e[1]; });
  p.order.forEach(k => {
    const st = STYLE[k];
    const s = {type:'line', name:nameOf[k], xAxisIndex:i, yAxisIndex:i, data:build(p.d[k][0], p.d[k][1]),
      showSymbol:false, symbol:'none', animation:false, silent:true, clip:true, emphasis:{disabled:true},
      lineStyle:{color:st.line, width:st.width, type:st.type},
      itemStyle:{color: st.area ? st.swatch : st.line}};
    if (st.area) s.areaStyle = {color:st.fill, opacity:1, origin:'start'};
    series.push(s);
  });
  // PAH markers
  const lmin = Math.log10(p.y[0]), lmax = Math.log10(p.y[1]), span = lmax - lmin;
  const yb = Math.pow(10, lmax - p.bracket * span), yb2 = Math.pow(10, lmax - (p.bracket + 0.04) * span);
  const ml = [[{coord:[p.x[0], yb], lineStyle:{color:'#bbb', width:1.5, type:'solid'},
      label:{show:true, formatter:'PAHs', position:'insideStartBottom', color:'#9a9a9a', fontSize:11.5, fontFamily:FONT, distance:[1,3]}},
    {coord:[12.7, yb]}]];
  PAH_WV.forEach(w => {
    ml.push([{coord:[w, yb], lineStyle:{color:'#bbb', width:1, type:'solid'}}, {coord:[w, yb2]}]);
    ml.push([{coord:[w, yb2], lineStyle:{color:'#aaa', width:0.8, type:[2,2]}}, {coord:[w, p.y[0]]}]);
  });
  series.push({type:'line', xAxisIndex:i, yAxisIndex:i, data:[[p.x[0], p.y[0]]], showSymbol:false, symbol:'none',
    lineStyle:{opacity:0}, animation:false, silent:true,
    markLine:{symbol:['none','none'], silent:true, animation:false, label:{show:false}, data:ml}});
  // y minor ticks (2..9 x 10^n)
  series.push({type:'custom', xAxisIndex:i, yAxisIndex:i, clip:false, silent:true, animation:false, z:11,
    data:minorValues(p.y[0], p.y[1]).map(v => [p.x[0], v]),
    renderItem:(params, api) => {
      const pt = api.coord([api.value(0), api.value(1)]);
      return {type:'line', shape:{x1:pt[0] - 4, y1:pt[1], x2:pt[0], y2:pt[1]}, style:{stroke:'#000', lineWidth:1}};
    }});
  // x minor ticks every 0.5 µm
  series.push({type:'custom', xAxisIndex:i, yAxisIndex:i, clip:false, silent:true, animation:false, z:11,
    data:xMinorValues(p.x[0], p.x[1]).map(v => [v, p.y[0]]),
    renderItem:(params, api) => {
      const pt = api.coord([api.value(0), api.value(1)]);
      return {type:'line', shape:{x1:pt[0], y1:pt[1], x2:pt[0], y2:pt[1] + 4}, style:{stroke:'#000', lineWidth:1}};
    }});
  legends.push({orient:'vertical', left:p.legendPos[0], top:p.legendPos[1], itemWidth:25, itemHeight:10, itemGap:5,
    padding:[4,7,4,5], backgroundColor:'rgba(255,255,255,0.55)', borderColor:'rgba(190,190,190,0.8)', borderWidth:1, borderRadius:4,
    selectedMode:false, textStyle:{fontSize:12.4, color:'#222', fontFamily:FONT, lineHeight:13, padding:[0,0,0,3]},
    data:p.legend.map(e => {
      const st = STYLE[e[0]];
      if (st.area) return {name:e[1], icon:'rect', itemStyle:{color:st.swatch, borderWidth:0}};
      return {name:e[1], itemStyle:{color:'rgba(0,0,0,0)', borderWidth:0, borderColor:'rgba(0,0,0,0)'},
        lineStyle:{color:st.line, width:st.width, type:st.type}};
    })});
  titles.push({text:p.label, left:p.labelPos[0], top:p.labelPos[1], padding:0, z:20,
    textStyle:{color:'#fff', fontSize:15, fontWeight:'normal', fontFamily:FONT}});
});

const chart = echarts.init(document.getElementById('c'), null, {renderer:'canvas'});
chart.setOption({animation:false, backgroundColor:'#fff', textStyle:{fontFamily:FONT},
  grid:grids, xAxis:xAxes, yAxis:yAxes, series:series, legend:legends, title:titles});
</script></body></html>
